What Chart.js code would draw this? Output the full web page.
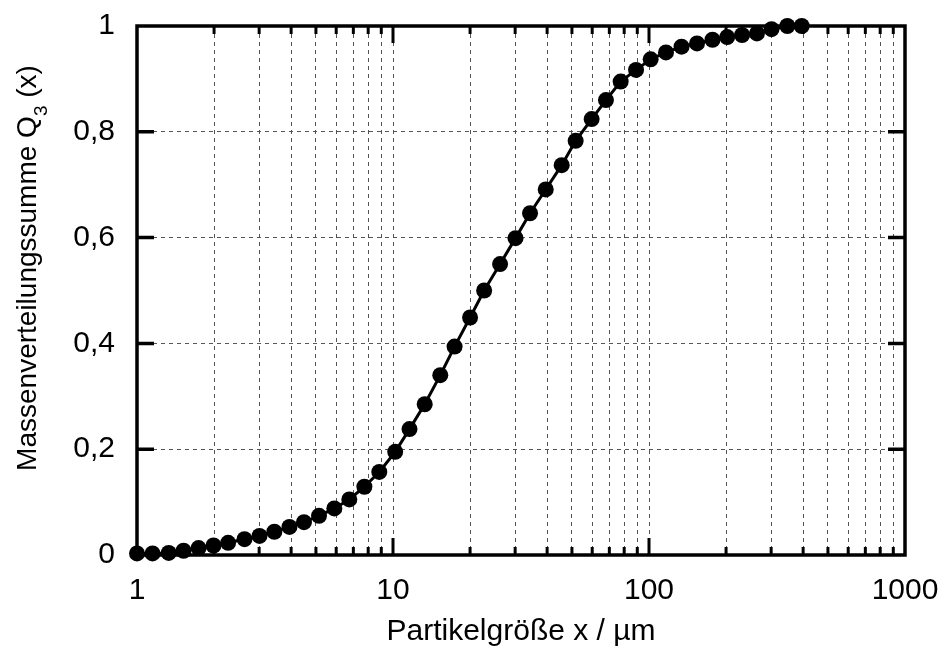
<!DOCTYPE html>
<html lang="de">
<head>
<meta charset="utf-8">
<title>Massenverteilungssumme Q3</title>
<script src="https://cdn.jsdelivr.net/npm/chart.js@4/dist/chart.umd.min.js"></script>
<style>
  html, body { margin: 0; padding: 0; background: #fff; }
  #wrap { width: 940px; height: 651px; }
</style>
</head>
<body>
<div id="wrap"><canvas id="q3Chart" width="940" height="651"></canvas></div>
<script>
'use strict';

// ── Messwerte ──
const particleSizes = [1.00, 1.15, 1.33, 1.52, 1.74, 1.99, 2.27, 2.63, 3.01, 3.44,
                       3.94, 4.49, 5.14, 5.90, 6.75, 7.73, 8.84, 10.2, 11.6, 13.3,
                       15.3, 17.4, 20.0, 22.7, 26.2, 30.1, 34.3, 39.5, 45.6, 51.7,
                       59.7, 67.9, 77.5, 89.0, 101.5, 116.5, 134, 154, 177, 202,
                       231, 264, 301, 347, 395];
const q3Values      = [0.003, 0.003, 0.004, 0.008, 0.013, 0.018, 0.023, 0.030, 0.036, 0.044,
                       0.053, 0.062, 0.074, 0.088, 0.105, 0.129, 0.157, 0.195, 0.238, 0.285,
                       0.340, 0.394, 0.449, 0.500, 0.550, 0.599, 0.646, 0.691, 0.737, 0.783,
                       0.824, 0.860, 0.895, 0.917, 0.937, 0.950, 0.961, 0.967, 0.974, 0.979,
                       0.983, 0.986, 0.994, 1.000, 1.000];

// ── Achsen ──
const xTickLabels = [1, 10, 100, 1000];
const yTickValues = [0, 0.2, 0.4, 0.6, 0.8, 1];
const yTickLabels = ['0', '0,2', '0,4', '0,6', '0,8', '1'];
const xTitle = 'Partikelgröße x / µm';
const yTitleParts = ['Massenverteilungssumme Q', '3', ' (x)'];

const FONT = '"Liberation Sans", Arial, Helvetica, sans-serif';

// Gitterlinien bei 1..9 je Dekade
const xGridValues = [];
for (let d = 1; d < 1000; d *= 10) {
  for (let m = 1; m < 10; m++) xGridValues.push(m * d);
}
xGridValues.push(1000);

// ── Rahmen + nach innen zeigende Ticks ──
const frameTicks = {
  id: 'frameTicks',
  afterDatasetsDraw(chart) {
    const { ctx, chartArea: a, scales: { x, y } } = chart;
    ctx.save();
    ctx.strokeStyle = '#000';
    ctx.lineCap = 'butt';

    ctx.lineWidth = 3;
    ctx.beginPath();
    xGridValues.forEach(v => {
      if (v === 1 || v === 1000) return;
      const len = xTickLabels.includes(v) ? 17 : 8;
      const px = x.getPixelForValue(v);
      ctx.moveTo(px, a.bottom); ctx.lineTo(px, a.bottom - len);
      ctx.moveTo(px, a.top);    ctx.lineTo(px, a.top + len);
    });
    ctx.stroke();

    ctx.lineWidth = 3.5;
    ctx.beginPath();
    yTickValues.slice(1, -1).forEach(v => {
      const py = y.getPixelForValue(v);
      ctx.moveTo(a.left, py);  ctx.lineTo(a.left + 17, py);
      ctx.moveTo(a.right, py); ctx.lineTo(a.right - 17, py);
    });
    ctx.stroke();

    ctx.lineWidth = 3.5;
    ctx.strokeRect(a.left, a.top, a.right - a.left, a.bottom - a.top);
    ctx.restore();
  }
};

// ── Y-Achsentitel mit tiefgestellter 3 ──
const yTitlePlugin = {
  id: 'yTitle',
  afterDraw(chart) {
    const ctx = chart.ctx;
    const big = '28px ' + FONT;
    const small = '19px ' + FONT;
    ctx.save();
    ctx.font = big;
    const w1 = ctx.measureText(yTitleParts[0]).width;
    const w3 = ctx.measureText(yTitleParts[2]).width;
    ctx.font = small;
    const w2 = ctx.measureText(yTitleParts[1]).width;
    const total = w1 + w2 + w3;

    ctx.translate(36, 268);
    ctx.rotate(-Math.PI / 2);
    ctx.fillStyle = '#000';
    ctx.textBaseline = 'alphabetic';
    ctx.textAlign = 'left';
    let pos = -total / 2;
    ctx.font = big;   ctx.fillText(yTitleParts[0], pos, 0);  pos += w1;
    ctx.font = small; ctx.fillText(yTitleParts[1], pos, 11); pos += w2;
    ctx.font = big;   ctx.fillText(yTitleParts[2], pos, 0);
    ctx.restore();
  }
};

new Chart(document.getElementById('q3Chart'), {
  type: 'line',
  data: {
    datasets: [{
      label: 'Q3',
      data: particleSizes.map((s, i) => ({ x: s, y: q3Values[i] })),
      borderColor: '#000',
      backgroundColor: '#000',
      borderWidth: 3,
      pointRadius: 8,
      pointBorderWidth: 0,
      pointBackgroundColor: '#000',
      tension: 0,
      fill: false,
      clip: false,
    }],
  },
  options: {
    responsive: false,
    devicePixelRatio: 1,
    animation: false,
    events: [],
    layout: { autoPadding: false, padding: { top: 26, right: 35, left: 0, bottom: 0 } },
    plugins: {
      legend: { display: false },
      tooltip: { enabled: false },
    },
    scales: {
      x: {
        type: 'logarithmic',
        min: 1,
        max: 1000,
        afterFit: s => { s.height = 96; s.paddingLeft = 0; s.paddingRight = 0; },
        afterBuildTicks: s => { s.ticks = xGridValues.map(v => ({ value: v })); },
        ticks: {
          autoSkip: false,
          maxRotation: 0,
          minRotation: 0,
          padding: 18,
          color: '#000',
          font: { family: FONT, size: 30 },
          callback: v => xTickLabels.includes(v) ? String(v) : '',
        },
        grid: { color: '#555', lineWidth: 1, drawTicks: false },
        border: { display: false, dash: [4, 4] },
        title: {
          display: true,
          text: xTitle,
          color: '#000',
          font: { family: FONT, size: 30 },
          padding: { top: 0, bottom: 1 },
        },
      },
      y: {
        min: 0,
        max: 1,
        afterFit: s => { s.width = 137; s.paddingTop = 0; s.paddingBottom = 0; },
        afterBuildTicks: s => { s.ticks = yTickValues.map(v => ({ value: v })); },
        ticks: {
          padding: 22,
          color: '#000',
          font: { family: FONT, size: 30 },
          callback: (v, i) => yTickLabels[i],
        },
        grid: { color: '#555', lineWidth: 1, drawTicks: false },
        border: { display: false, dash: [4, 4] },
      },
    },
  },
  plugins: [frameTicks, yTitlePlugin],
});
</script>
</body>
</html>
